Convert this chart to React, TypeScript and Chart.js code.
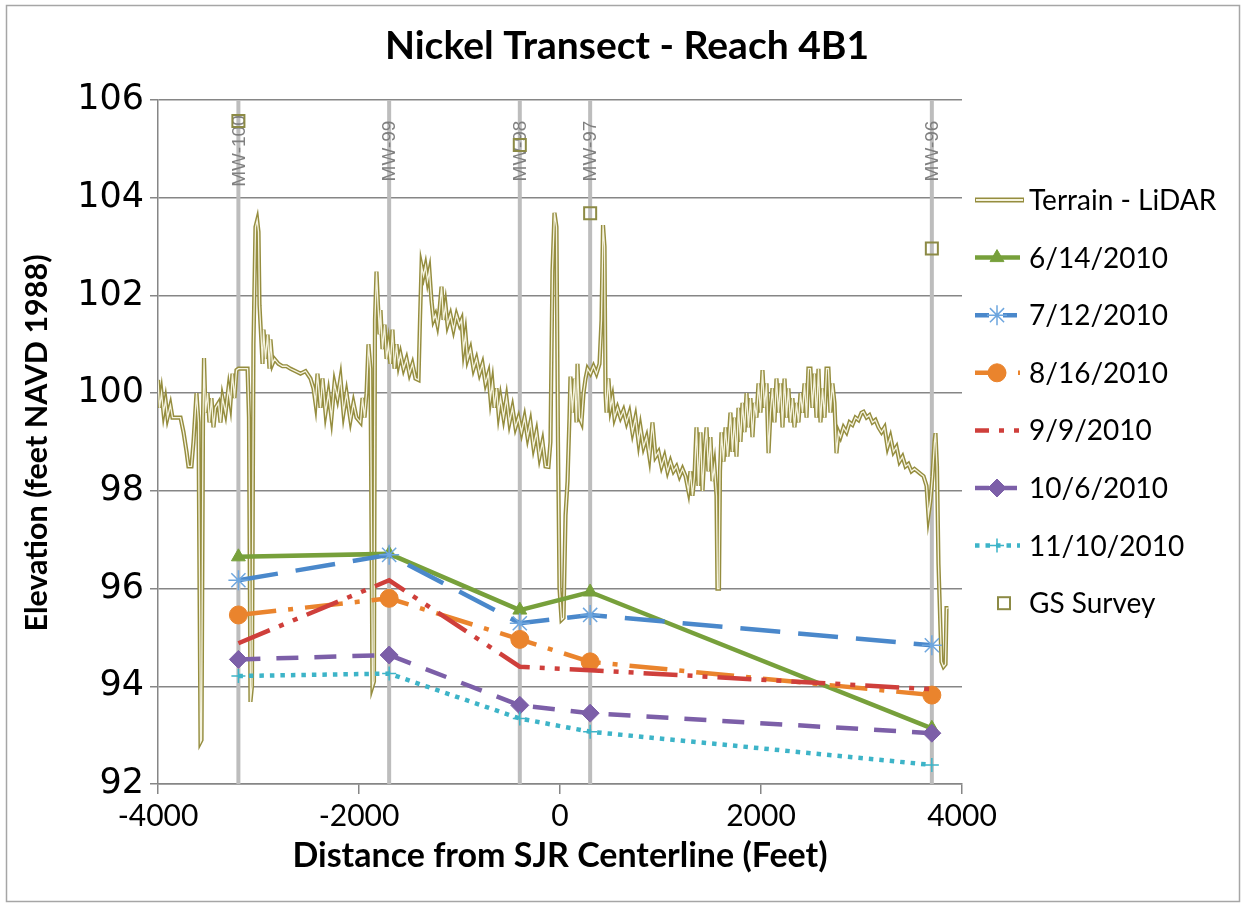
import { useEffect, useRef } from 'react';
import { Chart, registerables } from 'chart.js';
import { drawPoint } from 'chart.js/helpers';

Chart.register(...registerables);

// Monitoring wells along the transect
const wellNames = ['MW-100', 'MW-99', 'MW-98', 'MW-97', 'MW-96'];
const wellDistance = [-3200, -1700, -400, 300, 3700];

// Groundwater elevations at each well (feet NAVD 1988)
const gw20100614 = [96.65, 96.71, 95.56, 95.93, 93.14];
const gw20100712 = [96.17, 96.69, 95.29, 95.46, 94.84];
const gw20100816 = [95.46, 95.8, 94.96, 94.5, 93.82];
const gw20100909 = [94.88, 96.17, 94.4, 94.33, 93.94];
const gw20101006 = [94.55, 94.64, 93.61, 93.45, 93.04];
const gw20101110 = [94.21, 94.26, 93.34, 93.07, 92.39];

const seriesLabels = ['6/14/2010', '7/12/2010', '8/16/2010', '9/9/2010', '10/6/2010', '11/10/2010'];
const seriesValues = [gw20100614, gw20100712, gw20100816, gw20100909, gw20101006, gw20101110];

// Ground survey at well casings
const surveyDistance = [-3200, -400, 300, 3700];
const surveyElevation = [105.57, 105.08, 103.68, 102.96];

// LiDAR terrain profile
const terrainDistance = [
  -4000, -3985, -3965, -3945, -3925, -3905, -3876, -3856, -3826, -3776, -3746, -3716, -3697, -3667, -3647, -3617,
  -3597, -3577, -3567, -3552, -3542, -3527, -3507, -3488, -3468, -3448, -3428, -3398, -3378, -3358, -3328, -3299,
  -3279, -3259, -3239, -3219, -3199, -3159, -3109, -3095, -3080, -3065, -3050, -3030, -3013, -3000, -2990, -2980,
  -2960, -2950, -2930, -2910, -2891, -2881, -2861, -2841, -2801, -2761, -2721, -2682, -2632, -2582, -2532, -2483,
  -2453, -2433, -2413, -2383, -2363, -2333, -2304, -2274, -2244, -2214, -2184, -2154, -2124, -2085, -2055, -2025,
  -1985, -1965, -1945, -1925, -1906, -1886, -1866, -1851, -1841, -1826, -1811, -1796, -1786, -1766, -1746, -1726,
  -1707, -1687, -1667, -1647, -1627, -1607, -1587, -1557, -1527, -1498, -1468, -1438, -1408, -1393, -1378, -1358,
  -1338, -1318, -1299, -1279, -1259, -1239, -1219, -1199, -1179, -1159, -1139, -1119, -1090, -1060, -1030, -1000,
  -980, -960, -940, -920, -891, -861, -831, -801, -771, -741, -712, -692, -672, -652, -632, -612,
  -592, -562, -532, -503, -473, -443, -413, -383, -353, -323, -294, -264, -234, -204, -174, -144,
  -115, -95, -75, -55, -35, -20, -5, 15, 35, 55, 75, 94, 104, 124, 144, 164,
  174, 194, 214, 234, 254, 274, 303, 333, 363, 393, 413, 428, 443, 453, 463, 482,
  502, 522, 542, 572, 602, 632, 662, 691, 721, 751, 781, 801, 831, 861, 890, 920,
  950, 980, 1010, 1040, 1070, 1099, 1129, 1159, 1189, 1219, 1249, 1278, 1298, 1318, 1338, 1358,
  1378, 1398, 1418, 1438, 1458, 1477, 1497, 1517, 1537, 1557, 1567, 1582, 1592, 1607, 1627, 1647,
  1667, 1696, 1716, 1736, 1756, 1776, 1796, 1816, 1836, 1856, 1875, 1895, 1915, 1935, 1955, 1975,
  1995, 2015, 2035, 2055, 2075, 2094, 2114, 2134, 2154, 2174, 2194, 2214, 2234, 2254, 2273, 2293,
  2313, 2333, 2353, 2373, 2393, 2413, 2433, 2453, 2472, 2492, 2512, 2532, 2552, 2572, 2592, 2612,
  2632, 2652, 2671, 2691, 2711, 2731, 2751, 2771, 2791, 2821, 2851, 2881, 2910, 2940, 2970, 3000,
  3020, 3050, 3079, 3109, 3139, 3169, 3199, 3229, 3259, 3288, 3318, 3348, 3378, 3408, 3438, 3467,
  3497, 3527, 3557, 3587, 3617, 3647, 3666, 3686, 3706, 3726, 3736, 3751, 3766, 3796, 3816, 3836,
  3846, 3865,
];
const terrainElevation = [
  100.27, 99.7, 100.0, 99.6, 99.85, 99.5, 99.75, 99.5, 99.5, 99.5, 99.2, 98.8, 98.5, 98.5, 99.0, 100.0,
  99.4, 92.86, 92.9, 99.5, 100.72, 99.6, 100.0, 99.4, 99.9, 99.3, 99.7, 99.8, 99.4, 99.9, 99.6, 100.1,
  99.8, 100.4, 99.9, 100.47, 100.5, 100.5, 100.5, 99.5, 93.68, 94.0, 101.0, 103.4, 103.54, 103.3, 101.8, 101.4,
  100.6, 101.3, 100.7, 101.2, 100.5, 101.1, 100.6, 100.7, 100.6, 100.55, 100.55, 100.5, 100.45, 100.4, 100.45, 100.3,
  100.1, 99.8, 100.4, 99.7, 100.3, 99.6, 100.0, 99.5, 100.2, 99.9, 100.3, 99.6, 100.0, 99.45, 99.8, 99.5,
  99.4, 99.9, 99.5, 100.0, 101.0, 100.5, 94.0, 94.1, 101.5, 102.49, 101.8, 101.2, 101.7, 100.9, 101.4, 100.7,
  101.0, 100.6, 101.3, 100.5, 101.0, 100.6, 100.8, 100.5, 100.7, 100.4, 100.6, 100.3, 100.27, 101.5, 102.6, 102.4,
  102.6, 102.3, 102.5, 101.9, 101.5, 101.6, 101.4, 101.7, 102.18, 101.5, 101.8, 101.4, 101.6, 101.3, 101.6, 101.4,
  101.5, 100.9, 101.2, 100.7, 100.9, 100.5, 100.7, 100.4, 100.6, 100.2, 100.4, 99.9, 100.2, 99.7, 100.1, 99.6,
  99.9, 99.5, 99.9, 99.4, 99.7, 99.3, 99.5, 99.2, 99.5, 99.1, 99.4, 98.9, 99.2, 98.7, 99.0, 98.5,
  98.49, 99.0, 102.5, 103.69, 103.4, 99.0, 96.0, 95.36, 95.4, 97.5, 98.2, 99.5, 100.34, 99.6, 100.3, 99.4,
  100.6, 99.5, 99.4, 100.0, 100.3, 100.5, 100.4, 100.55, 100.4, 100.6, 101.5, 103.44, 103.0, 100.0, 99.6, 100.3,
  99.7, 99.9, 99.5, 99.7, 99.5, 99.65, 99.4, 99.6, 99.2, 99.5, 99.0, 99.3, 98.9, 99.1, 98.7, 99.4,
  98.7, 98.8, 98.5, 98.7, 98.4, 98.6, 98.4, 98.5, 98.3, 98.45, 98.3, 98.0, 98.4, 97.9, 98.3, 99.3,
  98.1, 99.2, 98.0, 98.8, 99.3, 98.4, 99.1, 98.2, 98.5, 97.9, 96.0, 96.0, 98.4, 99.2, 98.6, 99.3,
  98.7, 99.6, 98.8, 99.5, 98.7, 99.7, 99.0, 99.8, 99.2, 100.0, 99.3, 99.9, 99.1, 99.8, 99.5, 100.2,
  99.6, 100.47, 99.7, 100.2, 98.77, 99.6, 100.1, 99.4, 100.3, 99.6, 100.2, 99.3, 100.3, 99.5, 100.1, 99.4,
  99.9, 99.3, 99.8, 99.4, 100.0, 99.6, 100.2, 99.5, 100.5, 100.5, 99.7, 100.4, 99.5, 100.5, 99.4, 100.1,
  99.5, 100.5, 100.5, 99.6, 100.2, 99.8, 98.77, 99.2, 99.1, 99.3, 99.2, 99.4, 99.35, 99.5, 99.45, 99.6,
  99.62, 99.5, 99.55, 99.4, 99.45, 99.3, 99.2, 99.3, 98.9, 99.1, 98.8, 98.9, 98.6, 98.7, 98.5, 98.55,
  98.4, 98.45, 98.4, 98.35, 98.3, 98.1, 97.5, 97.8, 98.3, 99.0, 99.18, 98.5, 96.5, 94.5, 94.4, 94.45,
  95.6, 95.6,
];

// Axis ticks
const xTickStep = 2000;
const yTickStep = 2;

const FONT = 'Lato, "Open Sans", sans-serif';

const seriesStyle = [
  { color: '#77a03b', dash: [] as number[], point: 'triangle', radius: 8, pointColor: '#77a03b', pointBorder: 1 },
  { color: '#4a88cb', dash: [40, 18], point: 'star', radius: 10, pointColor: '#6ea6de', pointBorder: 1.5 },
  { color: '#ea842d', dash: [38, 12, 5, 12], point: 'circle', radius: 9, pointColor: '#ea842d', pointBorder: 1 },
  { color: '#cf3f3b', dash: [34, 10, 5, 10, 5, 10], point: 'circle', radius: 0, pointColor: '#cf3f3b', pointBorder: 0 },
  { color: '#7c5fa8', dash: [22, 16], point: 'rectRot', radius: 9, pointColor: '#7c5fa8', pointBorder: 1 },
  { color: '#3db4c8', dash: [4.5, 6], point: 'cross', radius: 7, pointColor: '#3db4c8', pointBorder: 1.5 },
];

const terrainColor = '#958d3f';
const terrainInner = '#f5f3df';
const surveyColor = '#8c8a45';

const decorPlugin = {
  id: 'decor',
  beforeDraw(chart: any) {
    const { ctx, width, height } = chart;
    ctx.save();
    ctx.fillStyle = '#ffffff';
    ctx.fillRect(0, 0, width, height);
    ctx.strokeStyle = '#a6a6a6';
    ctx.lineWidth = 1.5;
    ctx.strokeRect(6.5, 5.5, width - 13, height - 11);
    ctx.restore();
  },
  beforeDatasetsDraw(chart: any) {
    const { ctx, chartArea } = chart;
    const xs = chart.scales.x;
    ctx.save();
    wellDistance.forEach((d, i) => {
      const px = xs.getPixelForValue(d);
      ctx.strokeStyle = '#bdbdbd';
      ctx.lineWidth = 4;
      ctx.beginPath();
      ctx.moveTo(px, chartArea.top);
      ctx.lineTo(px, chartArea.bottom);
      ctx.stroke();
      ctx.save();
      ctx.translate(px + 1, 151);
      ctx.rotate(-Math.PI / 2);
      ctx.fillStyle = '#7f7f7f';
      ctx.font = '19px "Liberation Sans", Arial, sans-serif';
      ctx.textAlign = 'center';
      ctx.textBaseline = 'middle';
      ctx.fillText(wellNames[i], 0, 0);
      ctx.restore();
    });
    ctx.restore();
  },
  afterDraw(chart: any) {
    const { ctx } = chart;
    ctx.save();
    // Title
    ctx.fillStyle = '#000';
    ctx.textAlign = 'center';
    ctx.textBaseline = 'middle';
    ctx.font = `bold 39px ${FONT}`;
    ctx.fillText('Nickel Transect - Reach 4B1', 627, 46);
    // Axis titles
    ctx.font = `bold 34px ${FONT}`;
    ctx.fillText('Distance from SJR Centerline (Feet)', 560, 856);
    ctx.save();
    ctx.translate(37, 443);
    ctx.rotate(-Math.PI / 2);
    ctx.font = `bold 30.5px ${FONT}`;
    ctx.fillText('Elevation (feet NAVD 1988)', 0, 0);
    ctx.restore();

    // Legend
    const rowY = (k: number) => 200 + k * 57.6;
    const x0 = 975;
    const x1 = 1020;
    const mx = 997;
    ctx.textAlign = 'left';
    ctx.font = `28px ${FONT}`;

    // terrain: double line
    ctx.lineCap = 'butt';
    ctx.setLineDash([]);
    ctx.strokeStyle = terrainColor;
    ctx.lineWidth = 5;
    ctx.beginPath();
    ctx.moveTo(x0, rowY(0));
    ctx.lineTo(x1 + 4, rowY(0));
    ctx.stroke();
    ctx.strokeStyle = terrainInner;
    ctx.lineWidth = 1.8;
    ctx.beginPath();
    ctx.moveTo(x0 + 1, rowY(0));
    ctx.lineTo(x1 + 3, rowY(0));
    ctx.stroke();
    ctx.fillStyle = '#000';
    ctx.fillText('Terrain - LiDAR', 1029, rowY(0) + 1);

    seriesLabels.forEach((label, i) => {
      const st = seriesStyle[i];
      const y = rowY(i + 1);
      ctx.strokeStyle = st.color;
      ctx.lineWidth = 4.5;
      ctx.setLineDash(st.dash.map((v) => Math.min(v, 14)));
      ctx.beginPath();
      ctx.moveTo(x0, y);
      ctx.lineTo(x1, y);
      ctx.stroke();
      ctx.setLineDash([]);
      if (st.radius > 0) {
        ctx.fillStyle = st.pointColor;
        ctx.strokeStyle = st.pointColor;
        ctx.lineWidth = st.pointBorder;
        drawPoint(ctx, { pointStyle: st.point, rotation: 0, radius: st.radius, borderWidth: st.pointBorder }, mx, y);
      }
      ctx.fillStyle = '#000';
      ctx.fillText(label, 1029, y + 1);
    });

    const gy = rowY(7);
    ctx.strokeStyle = surveyColor;
    ctx.lineWidth = 2;
    ctx.strokeRect(998, gy - 6, 12, 12);
    ctx.fillStyle = '#000';
    ctx.fillText('GS Survey', 1029, gy + 1);
    ctx.restore();
  },
};

export default function App() {
  const canvasRef = useRef<HTMLCanvasElement>(null);

  useEffect(() => {
    const canvas = canvasRef.current;
    if (!canvas) return;

    const gwDatasets = seriesLabels.map((label, i) => {
      const st = seriesStyle[i];
      return {
        label,
        data: wellDistance.map((d, k) => ({ x: d, y: seriesValues[i][k] })),
        borderColor: st.color,
        borderWidth: 4.5,
        borderDash: st.dash,
        borderCapStyle: 'butt' as const,
        pointStyle: st.point,
        pointRadius: st.radius,
        pointBackgroundColor: st.pointColor,
        pointBorderColor: st.pointColor,
        pointBorderWidth: st.pointBorder,
        tension: 0,
        fill: false,
        order: 6 - i,
      };
    });

    const terrainPoints = terrainDistance.map((d, k) => ({ x: d, y: terrainElevation[k] }));

    const chart = new Chart(canvas, {
      type: 'line',
      data: {
        datasets: [
          {
            label: 'GS Survey',
            data: surveyDistance.map((d, k) => ({ x: d, y: surveyElevation[k] })),
            showLine: false,
            pointStyle: 'rect',
            pointRadius: 8.5,
            pointBackgroundColor: 'rgba(0,0,0,0)',
            pointBorderColor: surveyColor,
            pointBorderWidth: 2,
            order: 0,
          },
          ...gwDatasets,
          {
            label: 'Terrain - LiDAR inner',
            data: terrainPoints,
            borderColor: terrainInner,
            borderWidth: 1.3,
            pointRadius: 0,
            tension: 0,
            order: 7,
          },
          {
            label: 'Terrain - LiDAR',
            data: terrainPoints,
            borderColor: terrainColor,
            borderWidth: 4.2,
            pointRadius: 0,
            tension: 0,
            order: 8,
          },
        ] as any,
      },
      options: {
        responsive: false,
        animation: false,
        devicePixelRatio: 1,
        layout: { padding: { top: 100, right: 284, bottom: 0, left: 0 } },
        plugins: {
          legend: { display: false },
          tooltip: { enabled: false },
          title: { display: false },
        },
        scales: {
          x: {
            type: 'linear',
            min: -4000,
            max: 4000,
            ticks: {
              stepSize: xTickStep,
              color: '#000',
              font: { family: FONT, size: 30 },
              padding: 4,
              maxRotation: 0,
              callback: (v: any) => String(v),
            },
            grid: { drawOnChartArea: false, drawTicks: true, tickLength: 10, color: '#868686', lineWidth: 1.5 },
            border: { color: '#868686', width: 1.5 },
            afterFit: (s: any) => {
              s.height = 123;
            },
          },
          y: {
            type: 'linear',
            min: 92,
            max: 106,
            ticks: {
              stepSize: yTickStep,
              color: '#000',
              font: { family: '"DejaVu Sans", Verdana, sans-serif', size: 35 },
              padding: 6,
              callback: (v: any) => String(v),
            },
            grid: { color: '#868686', lineWidth: 1.5, tickLength: 8 },
            border: { color: '#868686', width: 1.5 },
            afterFit: (s: any) => {
              s.width = 158;
            },
          },
        },
      } as any,
      plugins: [decorPlugin],
    });

    return () => chart.destroy();
  }, []);

  return (
    <div style={{ position: 'absolute', left: 0, top: 0, width: 1246, height: 907, background: '#fff' }}>
      <canvas ref={canvasRef} width={1246} height={907} style={{ display: 'block' }} />
    </div>
  );
}
